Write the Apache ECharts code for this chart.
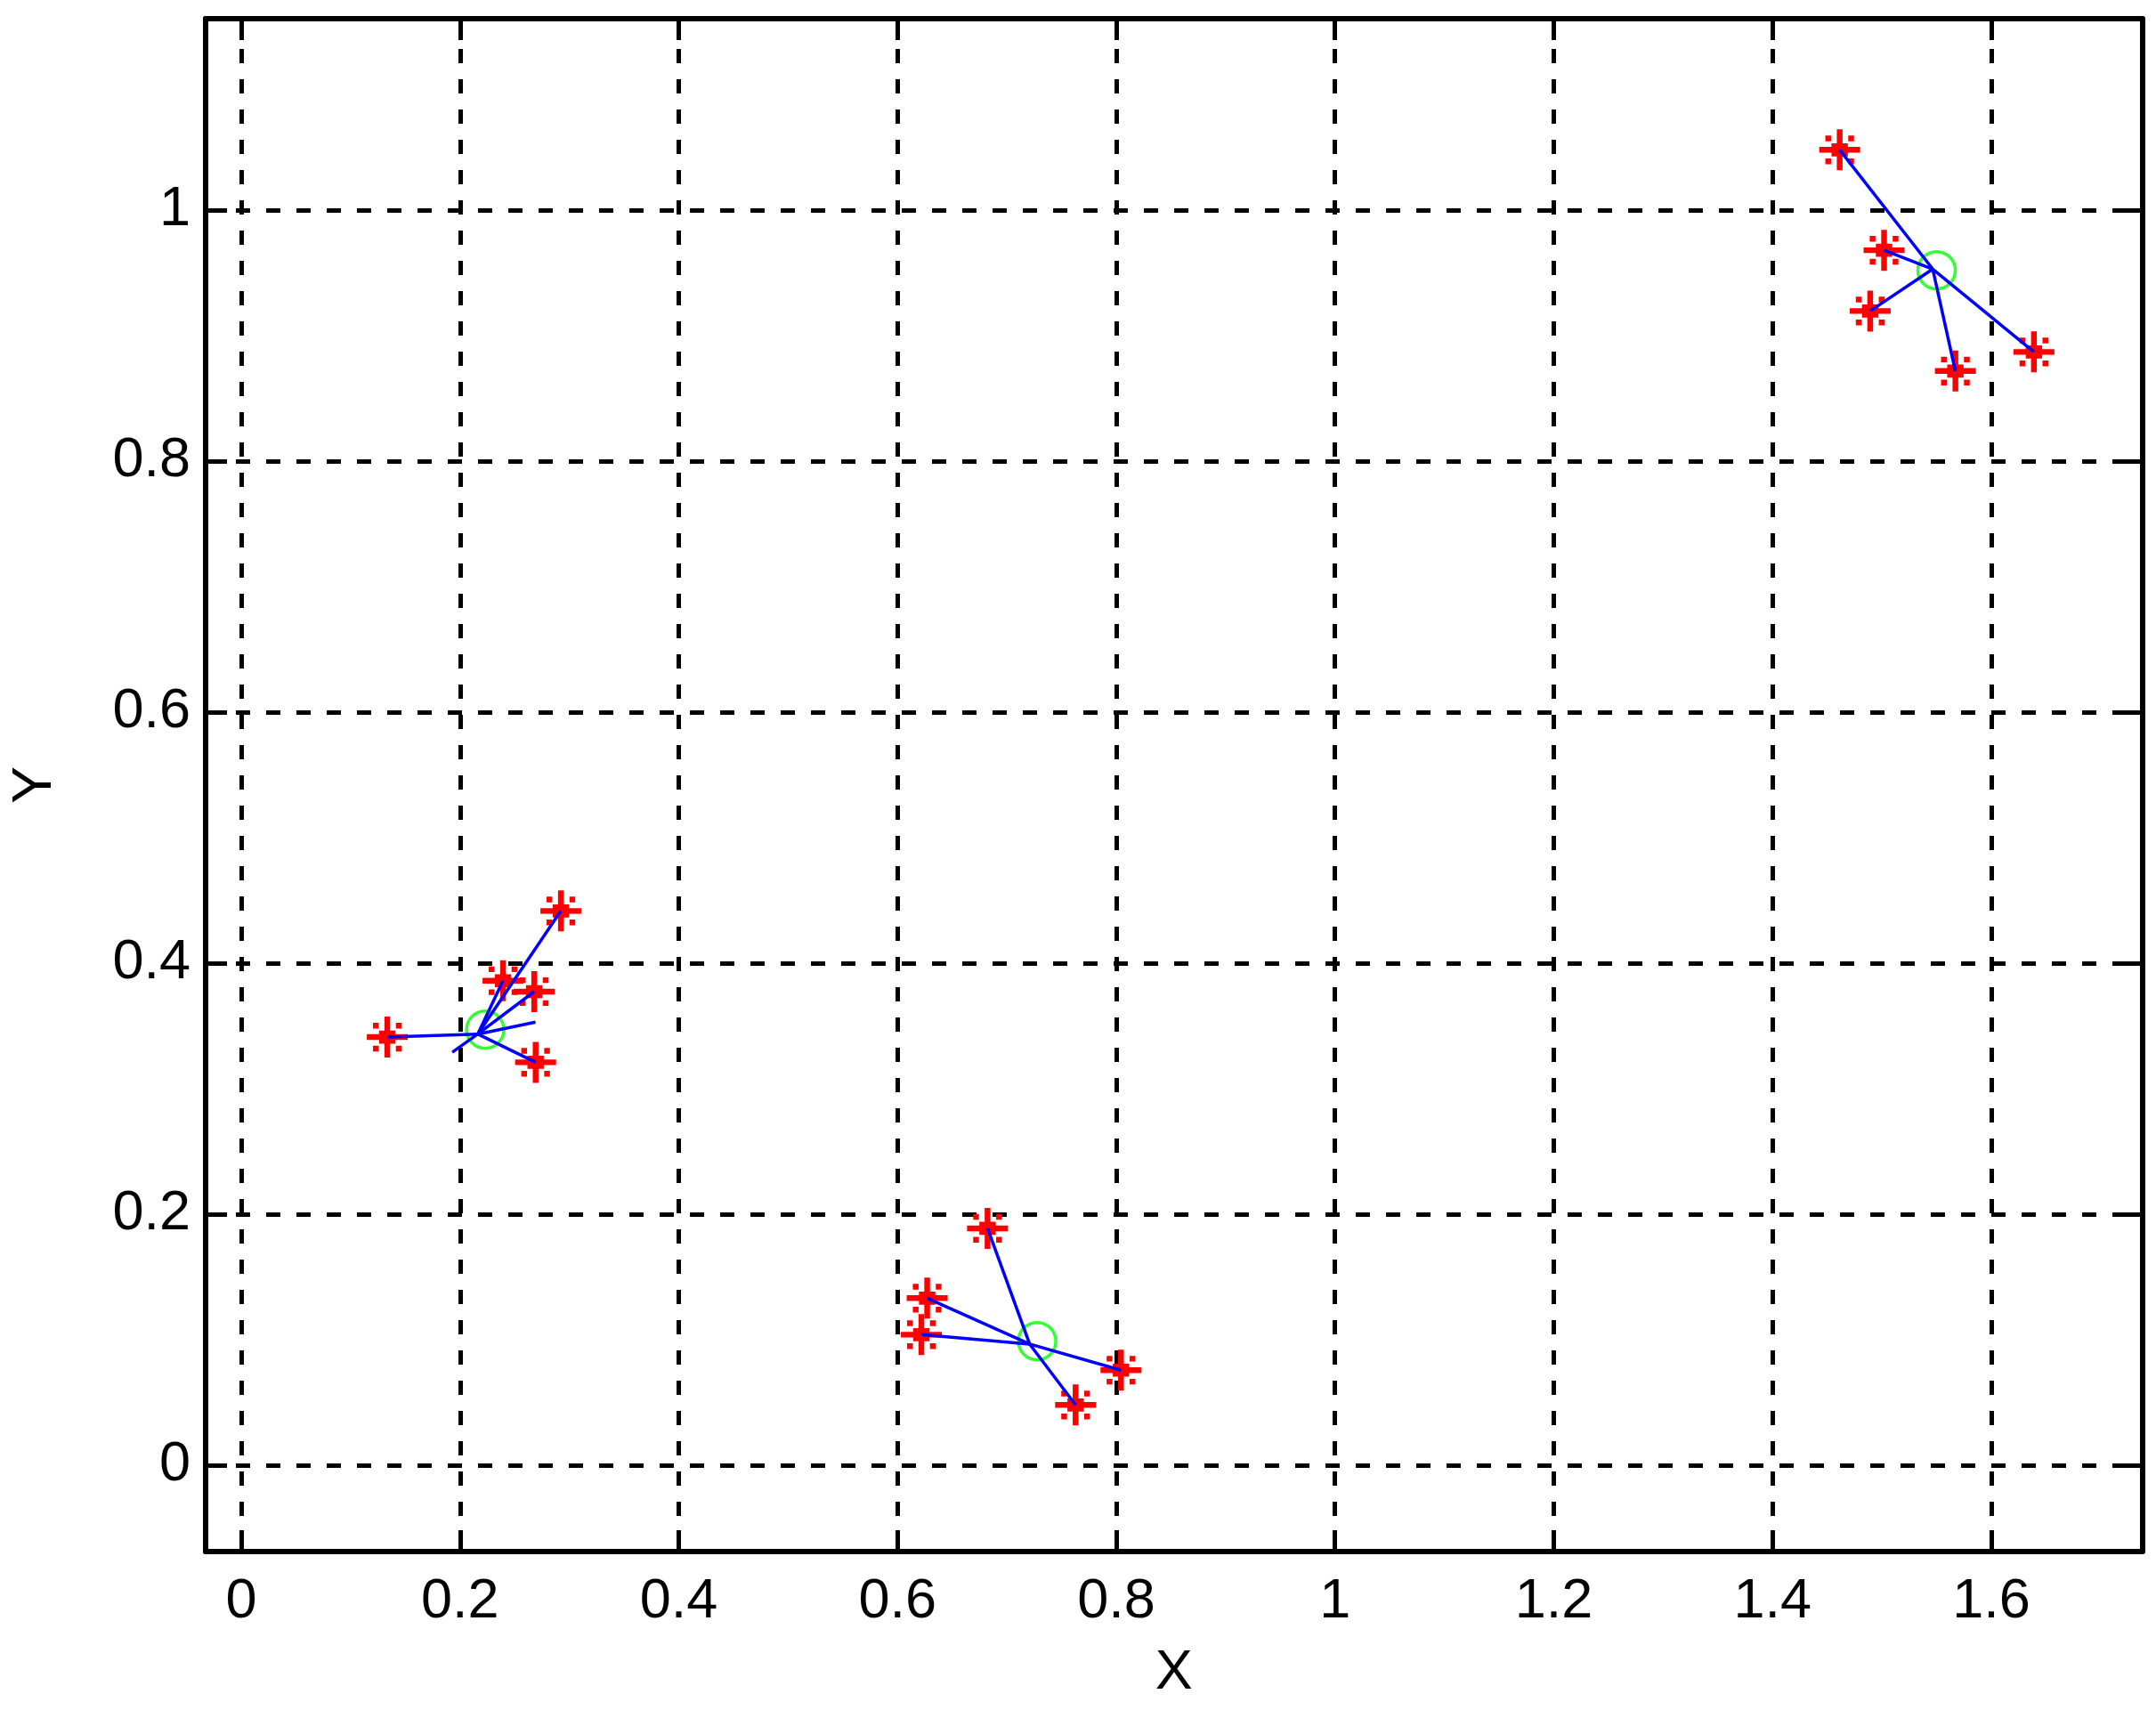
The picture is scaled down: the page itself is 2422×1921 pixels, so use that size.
<!DOCTYPE html>
<html>
<head>
<meta charset="utf-8">
<title>clusters</title>
<script src="https://cdn.jsdelivr.net/npm/echarts@6/dist/echarts.min.js"></script>
<style>
  html, body { margin: 0; padding: 0; background: #fff; }
  #chart { width: 2422px; height: 1921px; }
</style>
</head>
<body>
<div id="chart"></div>
<script>
// axis ranges and tick labels
var xMin = -0.0326, xMax = 1.738
var yMin = -0.0688, yMax = 1.1525
var xTicks = [0, 0.2, 0.4, 0.6, 0.8, 1, 1.2, 1.4, 1.6]
var yTicks = [0, 0.2, 0.4, 0.6, 0.8, 1]

// cluster centres (green circles)
var centerX = [0.223, 0.7276, 1.550]
var centerY = [0.347, 0.0988, 0.952]
// point where the blue links meet, per cluster
var hubX = [0.2162, 0.7208, 1.5465]
var hubY = [0.3435, 0.0965, 0.9530]

// member nodes (red stars) and the cluster they belong to
var nodeX = [0.1335, 0.2922, 0.2393, 0.2678, 0.2691,
             0.6823, 0.6271, 0.6218, 0.8043, 0.7628,
             1.4614, 1.5020, 1.4893, 1.5672, 1.6390]
var nodeY = [0.3411, 0.4416, 0.3860, 0.3773, 0.3210,
             0.1887, 0.1331, 0.1040, 0.0757, 0.0480,
             1.0480, 0.9680, 0.9196, 0.8718, 0.8870]
var nodeCluster = [0, 0, 0, 0, 0, 1, 1, 1, 1, 1, 2, 2, 2, 2, 2]

// loose link ends without a marker (cluster 1)
var looseX = [0.1929, 0.2690]
var looseY = [0.3290, 0.3530]
var looseCluster = [0, 0]

var font = 'Liberation Sans, Arial, Helvetica, sans-serif'
// matlab style '*' marker
var starPath = 'path://M0 43H100V57H0Z M43 0H57V100H43Z M30 34H70V66H30Z' +
  'M15 15H29V29H15Z M71 15H85V29H71Z M15 71H29V85H15Z M71 71H85V85H71Z'

var stars = nodeX.map(function(x, i) { return [x, nodeY[i]] })
var centers = centerX.map(function(x, i) { return [x, centerY[i]] })
var links = []
nodeX.forEach(function(x, i) {
  var c = nodeCluster[i]
  links.push({ coords: [[hubX[c], hubY[c]], [x, nodeY[i]]] })
})
looseX.forEach(function(x, i) {
  var c = looseCluster[i]
  links.push({ coords: [[hubX[c], hubY[c]], [x, looseY[i]]] })
})

function axisBase(min, max, ticks) {
  return {
    type: 'value',
    min: min,
    max: max,
    axisLine: { show: true, onZero: false, lineStyle: { color: '#000', width: 6 } },
    axisTick: { show: true, inside: true, length: 24, customValues: ticks, lineStyle: { color: '#000', width: 5 } },
    axisLabel: { show: false, customValues: ticks },
    splitLine: { show: false }
  }
}

var xBottom = axisBase(xMin, xMax, xTicks)
xBottom.position = 'bottom'
xBottom.axisLabel = { show: true, customValues: xTicks, color: '#000', fontSize: 63, fontFamily: font, margin: 25 }
xBottom.splitLine = { show: true, lineStyle: { color: '#000', width: 5, type: [16, 18] } }
xBottom.name = 'X'
xBottom.nameLocation = 'middle'
xBottom.nameGap = 105
xBottom.nameTextStyle = { color: '#000', fontSize: 63, fontFamily: font }
var xTop = axisBase(xMin, xMax, xTicks)
xTop.position = 'top'

var yLeft = axisBase(yMin, yMax, yTicks)
yLeft.position = 'left'
yLeft.axisLabel = { show: true, customValues: yTicks, color: '#000', fontSize: 63, fontFamily: font, margin: 17 }
yLeft.splitLine = { show: true, lineStyle: { color: '#000', width: 5, type: [16, 18] } }
yLeft.name = 'Y'
yLeft.nameLocation = 'middle'
yLeft.nameGap = 160
yLeft.nameTextStyle = { color: '#000', fontSize: 63, fontFamily: font }
var yRight = axisBase(yMin, yMax, yTicks)
yRight.position = 'right'

var chart = echarts.init(document.getElementById('chart'))
chart.setOption({
  backgroundColor: '#fff',
  animation: false,
  grid: { left: 231, right: 15.5, top: 21, bottom: 178 },
  xAxis: [xBottom, xTop],
  yAxis: [yLeft, yRight],
  series: [
    {
      name: 'nodes',
      type: 'scatter',
      data: stars,
      symbol: starPath,
      symbolSize: 46,
      itemStyle: { color: '#ff0000', opacity: 1 },
      z: 2
    },
    {
      name: 'centres',
      type: 'scatter',
      data: centers,
      symbol: 'circle',
      symbolSize: 42,
      itemStyle: { color: 'rgba(0,0,0,0)', borderColor: '#00ff00', borderWidth: 3.5 },
      z: 3
    },
    {
      name: 'links',
      type: 'lines',
      coordinateSystem: 'cartesian2d',
      data: links,
      lineStyle: { color: '#0000ff', width: 3.5, opacity: 1, curveness: 0 },
      z: 4
    }
  ]
})
</script>
</body>
</html>
